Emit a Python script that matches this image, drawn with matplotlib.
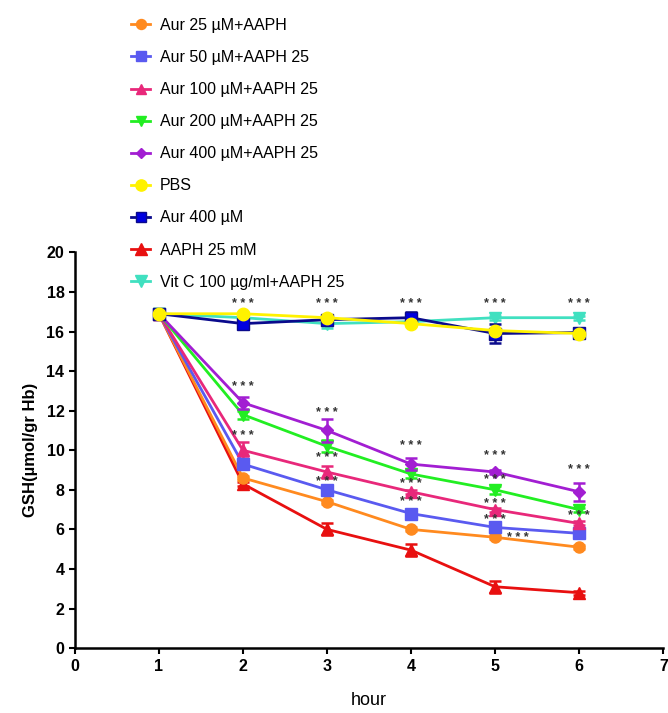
import matplotlib
matplotlib.use("Agg")
import matplotlib.pyplot as plt

plt.rcParams["font.family"] = ["Liberation Sans", "DejaVu Sans"]

# Time points (hours)
hours = [1, 2, 3, 4, 5, 6]

# GSH values per group
aur25 = [16.9, 8.6, 7.4, 6.0, 5.6, 5.1]
aur50 = [16.9, 9.3, 8.0, 6.8, 6.1, 5.8]
aur100 = [16.9, 10.0, 8.9, 7.9, 7.0, 6.3]
aur200 = [16.9, 11.8, 10.2, 8.8, 8.0, 7.0]
aur400_aaph = [16.9, 12.4, 11.0, 9.3, 8.9, 7.9]
pbs = [16.9, 16.9, 16.7, 16.4, 16.05, 15.9]
aur400 = [16.9, 16.4, 16.6, 16.7, 15.9, 15.95]
aaph = [16.9, 8.3, 6.0, 4.95, 3.1, 2.8]
vitc = [16.9, 16.7, 16.4, 16.5, 16.7, 16.7]

# error bars (SEM)
err_aur25 = [0, 0.1, 0.1, 0.1, 0.1, 0.1]
err_aur50 = [0, 0.2, 0.1, 0.1, 0.1, 0.1]
err_aur100 = [0, 0.4, 0.3, 0.1, 0.1, 0.1]
err_aur200 = [0, 0.2, 0.3, 0.2, 0.2, 0.1]
err_aur400_aaph = [0, 0.3, 0.6, 0.3, 0.1, 0.45]
err_pbs = [0, 0.1, 0.1, 0.1, 0.1, 0.1]
err_aur400 = [0, 0.2, 0.1, 0.3, 0.5, 0.2]
err_aaph = [0, 0.1, 0.3, 0.3, 0.3, 0.1]
err_vitc = [0, 0.1, 0.2, 0.1, 0.1, 0.1]

labels = [
    "Aur 25 µM+AAPH",
    "Aur 50 µM+AAPH 25",
    "Aur 100 µM+AAPH 25",
    "Aur 200 µM+AAPH 25",
    "Aur 400 µM+AAPH 25",
    "PBS",
    "Aur 400 µM",
    "AAPH 25 mM",
    "Vit C 100 µg/ml+AAPH 25",
]

# significance marks ("***") positions
star_x = [2, 3, 4, 5, 6,
          2, 2, 3, 3, 3, 4, 4, 4, 5, 5, 5, 5, 5.27, 6, 6]
star_y = [17.4, 17.4, 17.4, 17.4, 17.4,
          13.2, 10.7, 11.9, 9.6, 8.4, 10.2, 8.3, 7.4, 9.7, 8.5, 7.3, 6.5, 5.55, 9.0, 6.7]

series = [
    (aur25, err_aur25, "#FF8A1F", "#FF8A1F", "o", 8),
    (aur50, err_aur50, "#5A5AF0", "#5A5AF0", "s", 8),
    (aur100, err_aur100, "#E8287A", "#E8287A", "^", 8),
    (aur200, err_aur200, "#22EE22", "#22EE22", "v", 8),
    (aur400_aaph, err_aur400_aaph, "#A21ED2", "#A21ED2", "D", 6),
    (pbs, err_pbs, "#FFF200", "#FFF200", "o", 9),
    (aur400, err_aur400, "#0A0A8C", "#0000E0", "s", 8),
    (aaph, err_aaph, "#E81010", "#E81010", "^", 9),
    (vitc, err_vitc, "#40E0C0", "#40E0C0", "v", 9),
]

fig = plt.figure(figsize=(6.68, 7.13), dpi=100)
ax = fig.add_axes([0.112, 0.091, 0.881, 0.555])

order = [7, 0, 1, 2, 3, 4, 8, 6, 5]
drawn = {}
for k, i in enumerate(order):
    vals, err, c, fc, m, ms = series[i]
    eb = ax.errorbar(hours, vals, yerr=err, color=c, marker=m, markersize=ms,
                     markerfacecolor=fc, markeredgecolor=c, linewidth=2,
                     elinewidth=1.8, capsize=4, capthick=1.8, zorder=3 + k * 0.1)
    drawn[i] = eb[0]
handles = [drawn[i] for i in range(len(series))]

for x, y in zip(star_x, star_y):
    ax.text(x, y, "* * *", ha="center", va="center", fontsize=9,
            color="#333333", fontweight="bold", zorder=10)

ax.set_xlim(0, 7)
ax.set_ylim(0, 20)
ax.set_xticks(range(0, 8))
ax.set_yticks(range(0, 21, 2))
for s in ["top", "right"]:
    ax.spines[s].set_visible(False)
for s in ["left", "bottom"]:
    ax.spines[s].set_linewidth(1.8)
ax.tick_params(width=1.5, length=4, labelsize=11.5)
for t in ax.get_xticklabels() + ax.get_yticklabels():
    t.set_fontweight("bold")

ax.set_ylabel("GSH(µmol/gr Hb)", fontsize=12, fontweight="bold", labelpad=6)
ax.set_xlabel("hour", fontsize=13, labelpad=13)

fig.legend(handles, labels, loc="upper left", bbox_to_anchor=(0.175, 0.995),
           frameon=False, fontsize=11.5, handlelength=1.2, handletextpad=0.6,
           labelspacing=1.07, markerscale=0.9)

fig.savefig("out.png", dpi=100)
